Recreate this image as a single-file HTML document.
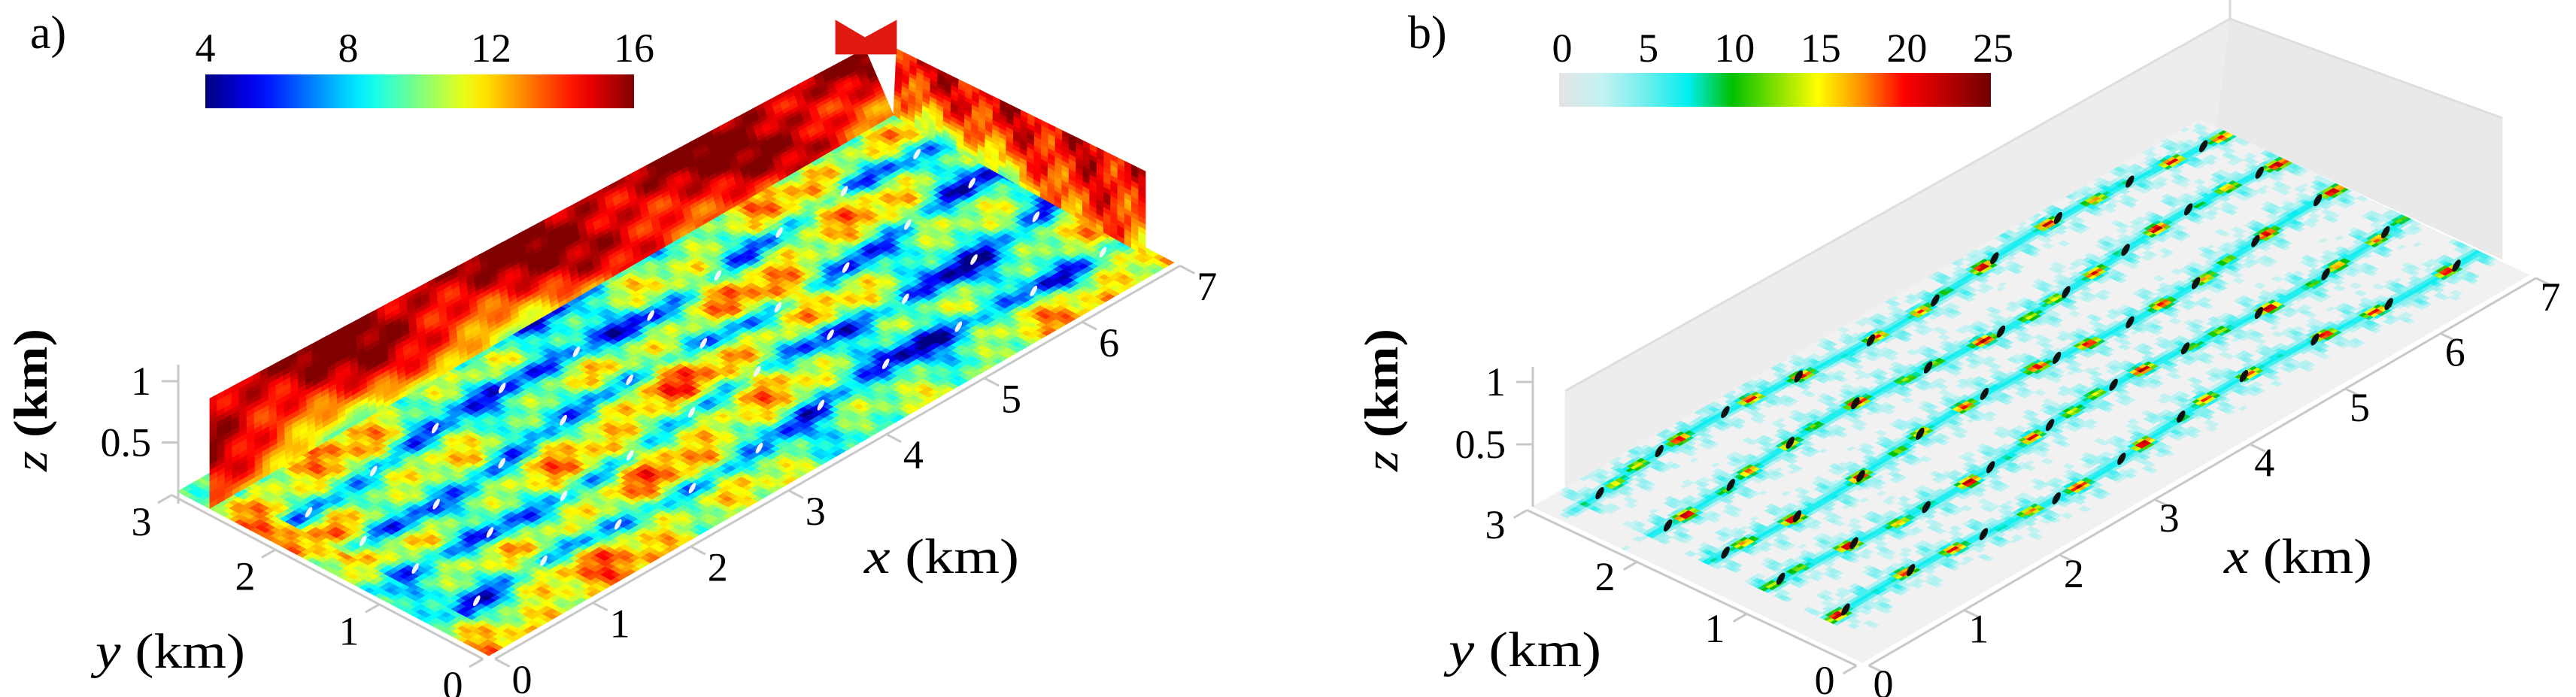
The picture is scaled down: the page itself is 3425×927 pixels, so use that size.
<!DOCTYPE html>
<html><head><meta charset="utf-8"><style>
html,body{margin:0;padding:0;background:#fff;}
svg{display:block;}
text{font-family:"Liberation Serif","Times New Roman",serif;fill:#000;}
</style></head><body>
<svg id="s" xmlns="http://www.w3.org/2000/svg" width="3425" height="927" viewBox="0 0 3425 927" font-family="Liberation Serif, serif">
<defs>
<linearGradient id="jetg" x1="0" x2="1" y1="0" y2="0"></linearGradient>
<linearGradient id="bg" x1="0" x2="1" y1="0" y2="0">
<stop offset="0" stop-color="#e4e4e4"/><stop offset="0.1" stop-color="#c4f2f2"/><stop offset="0.2" stop-color="#70eeee"/><stop offset="0.3" stop-color="#00eef0"/><stop offset="0.4" stop-color="#00c000"/><stop offset="0.6" stop-color="#ffff00"/><stop offset="0.7" stop-color="#ff9000"/><stop offset="0.8" stop-color="#ff0000"/><stop offset="1" stop-color="#700000"/>
</linearGradient>
</defs>
<g id="pa"></g>
<g id="pb"></g>
<text x="40" y="64" font-size="62" style="font-size:62px">a)</text>
<text x="1872" y="64" font-size="62" style="font-size:62px">b)</text>
<rect x="273" y="99" width="570" height="45" fill="url(#jetg)"/>
<rect x="2073" y="97" width="574" height="45" fill="url(#bg)"/>
<text x="1149" y="762" font-size="66" textLength="206" lengthAdjust="spacingAndGlyphs"><tspan font-style="italic">x</tspan> (km)</text>
<text x="127" y="888" font-size="66" textLength="199" lengthAdjust="spacingAndGlyphs"><tspan font-style="italic">y</tspan> (km)</text>
<text transform="translate(62,627) rotate(-90)" font-size="64" textLength="190" lengthAdjust="spacingAndGlyphs"><tspan font-style="italic">z</tspan> <tspan font-weight="bold">(km)</tspan></text>
<text x="2957" y="762" font-size="66" textLength="197" lengthAdjust="spacingAndGlyphs"><tspan font-style="italic">x</tspan> (km)</text>
<text x="1926" y="886" font-size="66" textLength="203" lengthAdjust="spacingAndGlyphs"><tspan font-style="italic">y</tspan> (km)</text>
<text transform="translate(1858,627) rotate(-90)" font-size="64" textLength="190" lengthAdjust="spacingAndGlyphs"><tspan font-style="italic">z</tspan> <tspan font-weight="bold">(km)</tspan></text>
</svg>
<script>
const rowY=[0.5,1.08,1.65,2.22,2.8];
const turbineX=[0.45,1.15,1.85,2.55,3.25,3.95,4.65,5.35,6.05,6.75];
const xTicks=[0,1,2,3,4,5,6,7];
const yTicks=[0,1,2,3];
const zTicks=[0.5,1];
const cbA=[4,8,12,16];
const cbB=[0,5,10,15,20,25];

const NS="http://www.w3.org/2000/svg";
const PA={ox:650,oy:872,xx:130.1,xy:-74.7,yx:-138,yy:-72.7,zx:237,z0:670,z1:507};
const PB={ox:2476,oy:881,xx:126.7,xy:-73.6,yx:-146,yy:-69,zx:2038,z0:674,z1:508};
function proj(P,x,y){return [P.ox+x*P.xx+y*P.yx,P.oy+x*P.xy+y*P.yy];}
function cl(v){return Math.max(0,Math.min(1,v));}
function jet(t){t=cl(t);const r=cl(1.5-Math.abs(4*t-3)),g=cl(1.5-Math.abs(4*t-2)),b=cl(1.5-Math.abs(4*t-1));
return "rgb("+Math.round(r*255)+","+Math.round(g*255)+","+Math.round(b*255)+")";}
const bStops=[[0,[228,228,228]],[0.1,[196,242,242]],[0.2,[112,238,238]],[0.3,[0,238,240]],[0.4,[0,192,0]],[0.6,[255,255,0]],[0.7,[255,144,0]],[0.8,[255,0,0]],[1,[112,0,0]]];
function cmapB(t){t=cl(t);for(let i=1;i<bStops.length;i++){if(t<=bStops[i][0]){const a=bStops[i-1],b=bStops[i];const f=(t-a[0])/(b[0]-a[0]);
return "rgb("+[0,1,2].map(k=>Math.round(a[1][k]+f*(b[1][k]-a[1][k]))).join(",")+")";}}return "rgb(112,0,0)";}
const jg=document.getElementById('jetg');
for(let i=0;i<=20;i++){const st=document.createElementNS(NS,'stop');st.setAttribute('offset',i/20);st.setAttribute('stop-color',jet(i/20));jg.appendChild(st);}

function poly(g,pts,fill,name){const p=document.createElementNS(NS,'polygon');
p.setAttribute('points',pts.map(q=>q[0].toFixed(1)+","+q[1].toFixed(1)).join(" "));
p.setAttribute('fill',fill);p.setAttribute('stroke',fill);p.setAttribute('stroke-width','0.8');


g.appendChild(p);return p;}
function line(g,a,b,col,w,name){const l=document.createElementNS(NS,'line');
l.setAttribute('x1',a[0]);l.setAttribute('y1',a[1]);l.setAttribute('x2',b[0]);l.setAttribute('y2',b[1]);
l.setAttribute('stroke',col);l.setAttribute('stroke-width',w);


g.appendChild(l);}
function txt(g,x,y,s,anchor,fs,name){const t=document.createElementNS(NS,'text');
t.setAttribute('x',x);t.setAttribute('y',y);t.setAttribute('text-anchor',anchor);t.setAttribute('font-size',fs);t.textContent=s;


g.appendChild(t);}
function wakeD(x,y,r){return y-rowY[r]-0.06*Math.sin(1.7*x+r*1.3);}

function fieldA(x,y){
  let v=10.9+1.3*Math.sin(1.1*x-2.3*y+0.5)+1.0*Math.sin(4.3*x+3.1*y+1)+0.8*Math.sin(9.7*x-6.1*y+2)+0.6*Math.sin(19*x+14*y)+0.5*Math.sin(31*x-23*y);
  v+=1.3*Math.exp(-Math.pow((y-1.55)/0.6,2))*(0.5+0.5*Math.sin(0.8*x+0.3));
  for(let r=0;r<rowY.length;r++){const d=wakeD(x,y,r);const w=Math.exp(-Math.pow(d/0.12,2));
    const fade=x<turbineX[0]-0.2?0.3:1;v-=5.2*w*fade*(0.8+0.2*Math.sin(5.3*x+2*r));}
  return v;}
function fieldB(x,y){
  let v=0.5;
  for(let r=0;r<rowY.length;r++){const d=wakeD(x,y,r);
    const fade=x<turbineX[0]-0.2?0.3:1;
    const sp=Math.sin(21*x+9*y)*Math.sin(5*x-13*y)+0.5*Math.sin(37*x-29*y);
    const halo=6.5*Math.exp(-Math.pow(d/0.27,2))*(0.45+0.45*sp);
    const core=24*Math.exp(-Math.pow(d/0.06,2))*(0.3+0.7*Math.max(0,Math.sin(13*x+3*r)*Math.sin(3*x+7*y)));
    v=Math.max(v,fade*Math.max(halo,core));}
  return v;}

// ---------- Panel A ----------
const ga=document.getElementById('pa');
poly(ga,[proj(PA,0,0),proj(PA,7,0),proj(PA,7,3),proj(PA,0,3)],jet((10-4)/12),'floor-a');
const dx=0.05,dyA=0.05;
for(let i=0;i<140;i++)for(let j=0;j<60;j++){
  const x=i*dx,y=j*dyA;const v=fieldA(x+dx/2,y+dyA/2);
  poly(ga,[proj(PA,x,y),proj(PA,x+dx,y),proj(PA,x+dx,y+dyA),proj(PA,x,y+dyA)],jet((v-4)/12),'speed-cell');
}
rowY.forEach((ry,r)=>turbineX.forEach(tx=>{
  const p=proj(PA,tx,ry+0.06*Math.sin(1.7*tx+r*1.3));
  const e=document.createElementNS(NS,'ellipse');e.setAttribute('cx',p[0]);e.setAttribute('cy',p[1]);e.setAttribute('rx',3);e.setAttribute('ry',8);
  e.setAttribute('fill','#f4f4f4');e.setAttribute('transform','rotate(30 '+p[0]+' '+p[1]+')');
  
  
  ga.appendChild(e);}));
function lerp(a,b,t){return [a[0]+(b[0]-a[0])*t,a[1]+(b[1]-a[1])*t];}
function wall(g,b0,b1,t0,t1,ns,nh,off,name){
  for(let i=0;i<ns;i++)for(let j=0;j<nh;j++){
    const s0=i/ns,s1=(i+1)/ns,h0=j/nh,h1=(j+1)/nh;
    const P=(s,h)=>lerp(lerp(b0,b1,s),lerp(t0,t1,s),h);
    const s=(s0+s1)/2,h=(h0+h1)/2;
    const v=15.0+0.8*h-4.5*Math.pow(1-h,2.5)*(0.6+0.4*Math.sin(6*s))+0.9*Math.sin(23*s+4*h)+0.6*Math.sin(51*s-11*h+1)+0.4*Math.sin(97*s+17*h)-off;
    poly(g,[P(s0,h0),P(s1,h0),P(s1,h1),P(s0,h1)],jet((v-4)/12),name);
  }}
wall(ga,[279,676],[1188,153],[279,530],[1150,65],90,20,0,'back-wall-a');
wall(ga,[1188,153],[1523,340],[1192,65],[1523,228],36,16,1.0,'side-wall-a');
poly(ga,[[1111,27],[1150,50],[1192,27],[1192,72],[1111,72]],'#e01a10','wall-notch-a');

// ---------- Panel B ----------
const gb=document.getElementById('pb');
poly(gb,[[2081,672],[2081,520],[2965,25],[2947,169]],'#ededed','back-wall-b');
poly(gb,[[2947,169],[2965,25],[3327,157],[3327,345]],'#e9e9e9','side-wall-b');
line(gb,[2081,520],[2965,25],'#dedede',3,'wall-edge-b');
line(gb,[2965,25],[3327,157],'#dedede',3,'wall-edge-b');
line(gb,[2965,0],[2965,25],'#d8d8d8',3,'wall-edge-b');
poly(gb,[proj(PB,0,0),proj(PB,7,0),proj(PB,7,3),proj(PB,0,3)],'#f1f1f1','floor-b');
const dyB=0.03;
for(let i=0;i<140;i++)for(let j=0;j<100;j++){
  const x=i*dx,y=j*dyB;const v=fieldB(x+dx/2,y+dyB/2);
  if(v<2.2)continue;
  poly(gb,[proj(PB,x,y),proj(PB,x+dx,y),proj(PB,x+dx,y+dyB),proj(PB,x,y+dyB)],cmapB(v/25),'vorticity-cell');
}
rowY.forEach((ry,r)=>turbineX.forEach(tx=>{
  const p=proj(PB,tx,ry+0.06*Math.sin(1.7*tx+r*1.3));
  const e=document.createElementNS(NS,'ellipse');e.setAttribute('cx',p[0]);e.setAttribute('cy',p[1]);e.setAttribute('rx',4);e.setAttribute('ry',9);
  e.setAttribute('fill','#111');e.setAttribute('transform','rotate(30 '+p[0]+' '+p[1]+')');
  
  
  gb.appendChild(e);}));

// ---------- Axes ----------
function axes(g,P,xo,yo,zEnd,suffix){
  const ax0=proj(P,0,-0.06),ax1=proj(P,7,-0.06);
  line(g,ax0,ax1,'#c8c8c8',3,'x-axis-line-'+suffix);
  const ay0=proj(P,-0.06,0),ay1=proj(P,-0.06,3);
  line(g,ay0,ay1,'#c8c8c8',3,'y-axis-line-'+suffix);
  xTicks.forEach(t=>{const a=proj(P,t,-0.06),b=proj(P,t,-0.2);line(g,a,b,'#c8c8c8',3,'x-tick-'+suffix);
    const q=proj(P,t,0);txt(g,q[0]+xo[0],q[1]+xo[1]+18,String(t),'middle',54,'x-tick-label-'+suffix);});
  yTicks.forEach(t=>{const a=proj(P,-0.06,t),b=proj(P,-0.2,t);line(g,a,b,'#c8c8c8',3,'y-tick-'+suffix);
    const q=proj(P,0,t);txt(g,q[0]+yo[0],q[1]+yo[1]+18,String(t),'middle',54,'y-tick-label-'+suffix);});
  line(g,[P.zx,P.z0],[P.zx,zEnd],'#c8c8c8',3,'z-axis-line-'+suffix);
  zTicks.forEach(t=>{const y=P.z0+(P.z1-P.z0)*t;line(g,[P.zx-22,y],[P.zx,y],'#c8c8c8',3,'z-tick-'+suffix);
    txt(g,P.zx-36,y+18,String(t),'end',54,'z-tick-label-'+suffix);});
}
axes(ga,PA,[44,32],[-48,40],485,'a');
axes(gb,PB,[28,29],[-50,24],488,'b');

// ---------- Colorbar labels ----------
const s=document.getElementById('s');
cbA.forEach(v=>{txt(s,273+570*(v-4)/12,82,String(v),'middle',54,'colorbar-a-label');});
cbB.forEach(v=>{txt(s,2077+573*v/25,82,String(v),'middle',54,'colorbar-b-label');});
</script>
</body></html>
